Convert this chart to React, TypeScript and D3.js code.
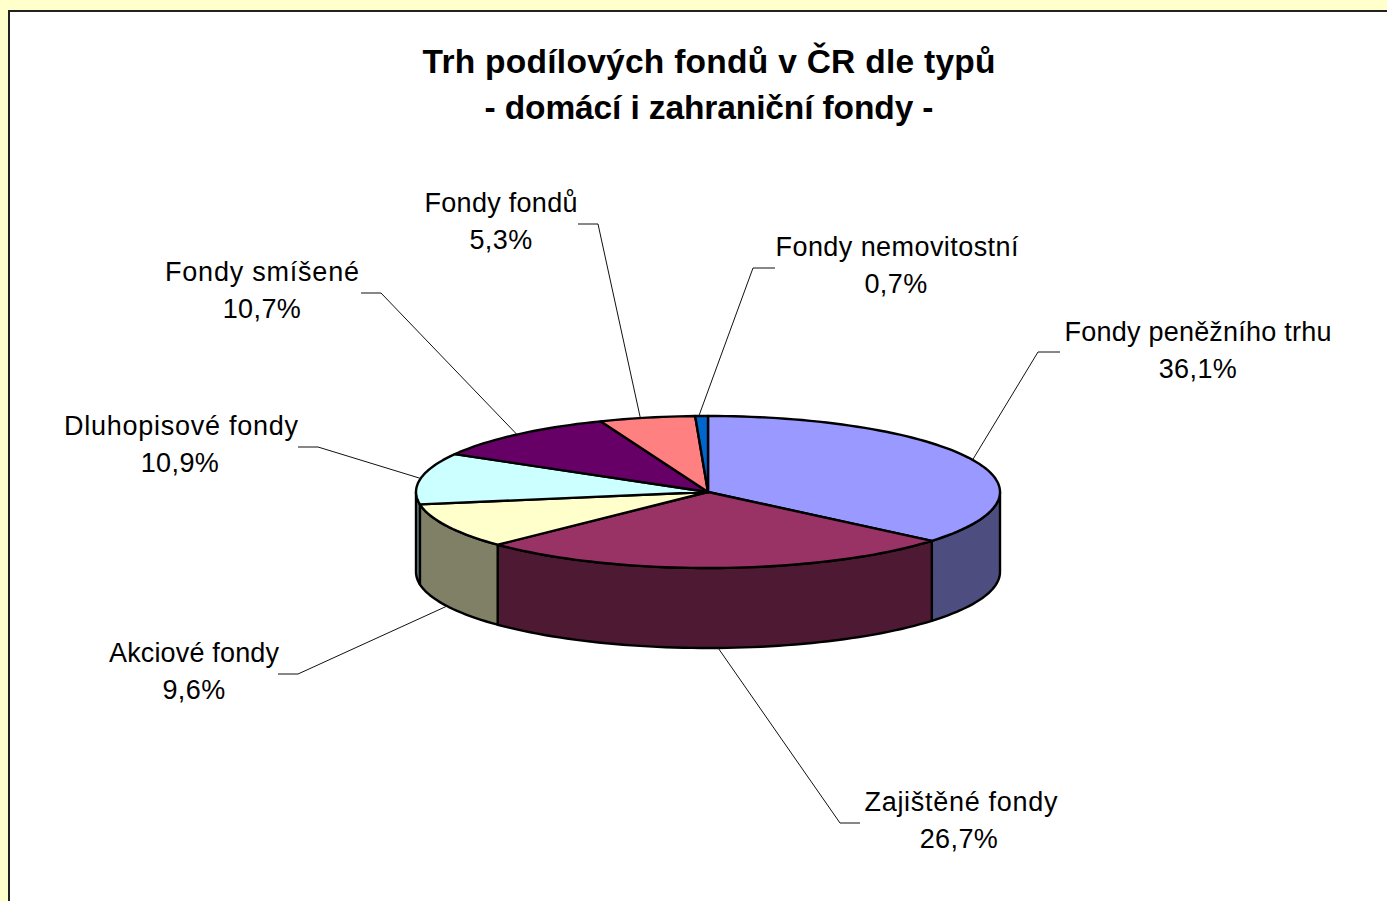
import React from "react";
import * as d3 from "d3";

const width = 1387;
const height = 901;

const categories = [
  "Fondy peněžního trhu",
  "Zajištěné fondy",
  "Akciové fondy",
  "Dluhopisové fondy",
  "Fondy smíšené",
  "Fondy fondů",
  "Fondy nemovitostní",
];
const shares = [36.1, 26.7, 9.6, 10.9, 10.7, 5.3, 0.7];
const topColors = ["#9999FF", "#993366", "#FFFFCC", "#CCFFFF", "#660066", "#FF8080", "#0066CC"];
const sideColors = ["#4D4D80", "#4D1933", "#808066", "#668080", "#330033", "#804040", "#003366"];
const titleLines = ["Trh podílových fondů v ČR dle typů", "- domácí i zahraniční fondy -"];
const titleWidths = [573, 449];

// where the labels sit: text centre, baseline of first line, text width, elbow of the leader, end of the leader
const labelX = [1198, 961, 194, 181, 262, 501, 897];
const valueX = [1198, 959, 194, 180, 262, 501, 896];
const labelY = [341, 811, 662, 435, 281, 212, 256];
const labelWidths = [267, 193, 170, 234, 194, 153, 243];
const elbows = [[1038, 352], [840, 823], [298, 674], [318, 447], [381, 293], [598, 224], [753, 268]];
const leaderEnds = [1060, 860, 278, 298, 361, 578, 775];
// the leaders do not leave quite from the middle of the two thin slices (in turns)
const leaderShift = [0, 0, 0, 0, 0, -0.0037, -0.0015];

const cx = 708;
const cy = 492;
const rx = 292;
const ry = 76;
const depth = 80;

const xScale = d3.scaleLinear().domain([-1, 1]).range([cx - rx, cx + rx]);
const yScale = d3.scaleLinear().domain([-1, 1]).range([cy + ry, cy - ry]);

const pieLayout = d3.pie<number>().sort(null).value(d => d);
const slices = pieLayout(shares);

const px = (a: number) => xScale(Math.sin(a));
const py = (a: number, drop = 0) => yScale(Math.cos(a)) + drop;

// points along the rim of the tilted disc
function rim(a0: number, a1: number, drop = 0): [number, number][] {
  const n = Math.max(2, Math.ceil(Math.abs(a1 - a0) / 0.03));
  return d3.range(n + 1).map(i => {
    const a = a0 + ((a1 - a0) * i) / n;
    return [px(a), py(a, drop)] as [number, number];
  });
}

const line = d3.line();

export default function App() {
  const front0 = Math.PI / 2;
  const front1 = (3 * Math.PI) / 2;

  return (
    <svg
      width={width}
      height={height}
      style={{ position: "absolute", left: 0, top: 0, display: "block" }}
      fontFamily="'Liberation Sans', Arial, sans-serif"
    >
      <rect width={width} height={height} fill="#FFFFCC" />
      <rect x={9} y={11} width={width} height={height} fill="#fff" stroke="#222" strokeWidth={2} />

      {titleLines.map((t, i) => (
        <text
          key={t}
          x={709}
          y={73 + i * 46}
          textAnchor="middle"
          fontSize={33.5}
          fontWeight="bold"
          fill="#000"
          textLength={titleWidths[i]}
        >
          {t}
        </text>
      ))}

      {/* side wall, front half only */}
      {slices.map((s, i) => {
        const a0 = Math.max(s.startAngle, front0);
        const a1 = Math.min(s.endAngle, front1);
        if (a1 <= a0) return null;
        const pts = [...rim(a0, a1), ...rim(a1, a0, depth)];
        return (
          <path key={i} d={line(pts) + "Z"} fill={sideColors[i]} stroke="#000" strokeWidth={2.4} strokeLinejoin="round" />
        );
      })}

      {/* top of the disc */}
      {slices.map((s, i) => {
        const pts: [number, number][] = [[cx, cy], ...rim(s.startAngle, s.endAngle)];
        return (
          <path key={i} d={line(pts) + "Z"} fill={topColors[i]} stroke="#000" strokeWidth={2.4} strokeLinejoin="round" />
        );
      })}

      {/* leaders and labels */}
      {slices.map((s, i) => {
        const mid = (s.startAngle + s.endAngle) / 2 + leaderShift[i] * 2 * Math.PI;
        const onFront = Math.cos(mid) < -0.3;
        const start: [number, number] = [px(mid), py(mid, onFront ? depth : 0)];
        const elbow = elbows[i] as [number, number];
        const pts: [number, number][] = [start, elbow, [leaderEnds[i], elbow[1]]];
        return (
          <g key={categories[i]}>
            <path d={line(pts) ?? ""} fill="none" stroke="#111" strokeWidth={1} />
            <text x={labelX[i]} y={labelY[i]} textAnchor="middle" fontSize={27} fill="#000" textLength={labelWidths[i]}>
              {categories[i]}
            </text>
            <text x={valueX[i]} y={labelY[i] + 37} textAnchor="middle" fontSize={27} letterSpacing={0.4} fill="#000">
              {d3.format(".1f")(shares[i]).replace(".", ",")}%
            </text>
          </g>
        );
      })}
    </svg>
  );
}
